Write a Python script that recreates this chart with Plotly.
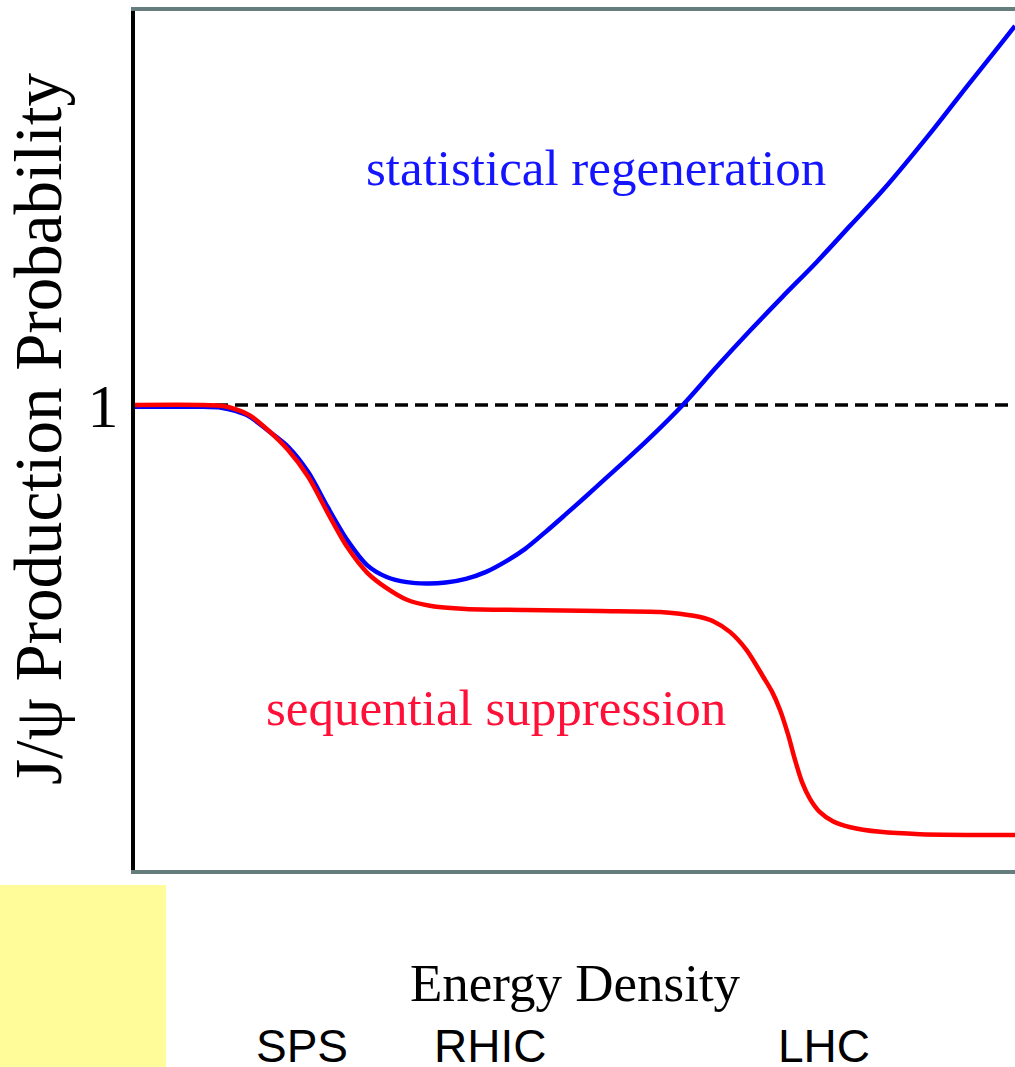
import plotly.graph_objects as go

# energy density (arbitrary units) and J/psi production probability
suppression_x = [0, 0.74, 0.98, 1.14, 1.30, 1.51, 1.74, 1.97, 2.19, 2.41, 2.64, 2.86, 3.09, 3.35,
                 3.76, 4.43, 5.28, 5.97, 6.19, 6.42, 6.57, 6.76, 6.95, 7.14, 7.24, 7.33, 7.42,
                 7.50, 7.58, 7.67, 7.78, 7.93, 8.13, 8.47, 8.92, 10.0]
suppression_y = [1.0, 1.0, 0.998, 0.991, 0.978, 0.946, 0.903, 0.845, 0.768, 0.695, 0.639, 0.606,
                 0.581, 0.568, 0.561, 0.559, 0.557, 0.555, 0.551, 0.544, 0.535, 0.512, 0.473,
                 0.415, 0.383, 0.344, 0.292, 0.237, 0.189, 0.153, 0.125, 0.105, 0.092, 0.082,
                 0.077, 0.075]

regeneration_x = [0, 0.74, 0.98, 1.14, 1.30, 1.51, 1.74, 1.97, 2.19, 2.41, 2.64, 2.86, 3.09, 3.31,
                  3.53, 3.76, 3.99, 4.20, 4.43, 4.66, 4.89, 5.11, 5.33, 5.56, 5.85, 6.23, 6.61,
                  6.99, 7.36, 7.75, 8.13, 8.50, 9.07, 9.45, 9.83, 10.0]
regeneration_y = [0.996, 0.996, 0.994, 0.987, 0.975, 0.945, 0.910, 0.855, 0.780, 0.710, 0.655,
                  0.630, 0.619, 0.616, 0.618, 0.626, 0.641, 0.662, 0.690, 0.726, 0.764, 0.801,
                  0.839, 0.878, 0.929, 1.001, 1.082, 1.160, 1.233, 1.308, 1.386, 1.462, 1.592,
                  1.684, 1.774, 1.815]

baseline_x = [0, 10]
baseline_y = [1, 1]

colliders = ['SPS', 'RHIC', 'LHC']
collider_x = [1.90, 4.03, 7.83]

W, H = 1015, 1067
L, T, B = 135, 11, 197
SERIF = 'Liberation Serif'


def px_x(px):
    return (px - L) / (W - L)


def px_y(py):
    return (H - B - py) / (H - B - T)


fig = go.Figure()
fig.add_trace(go.Scatter(x=baseline_x, y=baseline_y, mode='lines',
                         line=dict(color='black', width=3.5, dash='13px,7px')))
fig.add_trace(go.Scatter(x=regeneration_x, y=regeneration_y, mode='lines',
                         line=dict(color='#0000ff', width=4.5, shape='spline', smoothing=0.8)))
fig.add_trace(go.Scatter(x=suppression_x, y=suppression_y, mode='lines',
                         line=dict(color='#ff0000', width=4.5, shape='spline', smoothing=0.8)))

annotations = [
    dict(text='statistical regeneration', x=px_x(596), y=px_y(168),
         font=dict(family=SERIF, size=51, color='#1414ff')),
    dict(text='sequential suppression', x=px_x(496), y=px_y(708),
         font=dict(family=SERIF, size=51, color='#ff1038')),
    dict(text='J/ψ Production Probability', x=px_x(38), y=px_y(429), textangle=-90,
         font=dict(family=SERIF, size=67, color='black')),
]
for name, cx in zip(colliders, collider_x):
    annotations.append(dict(text=name, x=cx, xref='x', y=px_y(1046),
                            font=dict(family='Liberation Sans', size=46, color='black')))
for a in annotations:
    a.setdefault('xref', 'paper')
    a.update(yref='paper', showarrow=False, xanchor='center', yanchor='middle')

fig.update_layout(
    width=W, height=H,
    margin=dict(l=L, r=0, t=T, b=B),
    paper_bgcolor='white', plot_bgcolor='white',
    showlegend=False,
    annotations=annotations,
    shapes=[dict(type='rect', xref='paper', yref='paper',
                 x0=px_x(0), x1=px_x(166), y0=px_y(1067), y1=px_y(885),
                 fillcolor='#fffc99', line=dict(width=0))],
)
fig.update_xaxes(range=[0, 10], showgrid=False, zeroline=False, showticklabels=False,
                 showline=True, mirror=True, linecolor='#667d7d', linewidth=4,
                 title=dict(text='Energy Density', standoff=92,
                            font=dict(family=SERIF, size=53, color='black')))
fig.update_yaxes(range=[0, 1.847], showgrid=False, zeroline=False,
                 showline=True, linecolor='black', linewidth=4,
                 tickvals=[1], ticktext=['1'], ticks='', ticklabelstandoff=0,
                 tickfont=dict(family=SERIF, size=62, color='black'))

# page has a default body margin; drop it so the figure sits at the window corner
fig.write_html('out.html', config={'displayModeBar': False},
               post_script="document.body.style.margin='0px';")
